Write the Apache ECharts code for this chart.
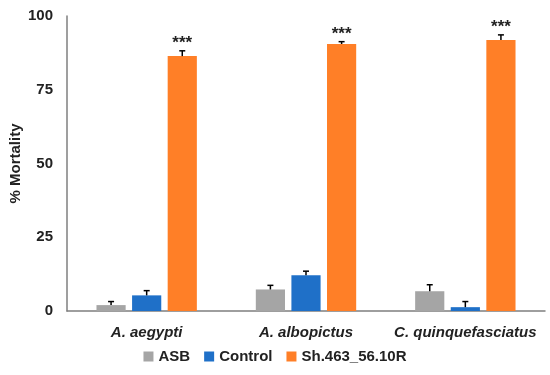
<!DOCTYPE html>
<html><head><meta charset="utf-8">
<script src="https://cdn.jsdelivr.net/npm/echarts@6/dist/echarts.min.js"></script>
<style>html,body{margin:0;padding:0;background:#fff}#c{width:550px;height:375px}</style>
</head><body><div id="c"></div>
<script>
const categories = ['A. aegypti', 'A. albopictus', 'C. quinquefasciatus'];
const seriesNames = ['ASB', 'Control', 'Sh.463_56.10R'];
const asbValues = [2.0, 7.3, 6.7];
const asbErrors = [1.2, 1.4, 2.2];
const controlValues = [5.3, 12.1, 1.3];
const controlErrors = [1.6, 1.4, 1.9];
const shValues = [86.4, 90.5, 91.9];
const shErrors = [1.8, 0.8, 1.7];
const significance = ['', '', '***'];
const yTicks = [0, 25, 50, 75, 100];
const colors = ['#A5A5A5', '#1F70C8', '#FF7F27'];

const allValues = [asbValues, controlValues, shValues];
const allErrors = [asbErrors, controlErrors, shErrors];
const catGapFrac = 0.37, barGapFrac = 0.22, nSeries = 3;

function errSeries(si) {
  const data = categories.map((c, i) => [i, allValues[si][i], allErrors[si][i]]);
  return {
    type: 'custom', name: seriesNames[si] + ' err', z: 10, silent: true,
    data: data,
    renderItem: function (params, api) {
      const ci = api.value(0), v = api.value(1), e = api.value(2);
      const band = api.size([1, 0])[0];
      const usable = band * (1 - catGapFrac);
      const bw = usable / (nSeries + (nSeries - 1) * barGapFrac);
      const off = -usable / 2 + si * bw * (1 + barGapFrac) + bw / 2;
      const base = api.coord([ci, v]);
      const top = api.coord([ci, v + e]);
      const x = base[0] + off;
      const children = [
        {type: 'line', shape: {x1: x, y1: base[1], x2: x, y2: top[1]}, style: {stroke: '#000', lineWidth: 1.5}},
        {type: 'line', shape: {x1: x - 3, y1: top[1], x2: x + 3, y2: top[1]}, style: {stroke: '#000', lineWidth: 1.5}}
      ];
      if (significance[si]) {
        children.push({type: 'text', x: x, y: top[1] + 1, style: {text: significance[si], fill: '#222', font: 'bold 17px "Liberation Sans", Arial, sans-serif', align: 'center', verticalAlign: 'bottom'}});
      }
      return {type: 'group', children: children};
    }
  };
}

const chart = echarts.init(document.getElementById('c'));
const barSeries = seriesNames.map((n, si) => ({
  type: 'bar', name: n, data: allValues[si],
  itemStyle: {color: colors[si]},
  barGap: (barGapFrac * 100) + '%', barCategoryGap: (catGapFrac * 100) + '%'
}));
chart.setOption({
  animation: false,
  textStyle: {fontFamily: '"Liberation Sans", Arial, sans-serif'},
  grid: {left: 67, right: 5, top: 16, bottom: 64, containLabel: false, outerBoundsMode: 'none'},
  legend: {
    data: seriesNames, bottom: 6, left: 'center', itemWidth: 10, itemHeight: 10, itemGap: 14,
    icon: 'rect',
    textStyle: {fontWeight: 'bold', fontSize: 15, color: '#222'}
  },
  xAxis: {
    type: 'category', data: categories,
    axisLine: {lineStyle: {color: '#7f7f7f', width: 1.5}},
    axisTick: {show: false},
    axisLabel: {interval: 0, hideOverlap: false, fontWeight: 'bold', fontStyle: 'italic', fontSize: 15, color: '#222', margin: 14}
  },
  yAxis: {
    type: 'value', min: 0, max: 100, interval: 25,
    name: '% Mortality', nameLocation: 'middle', nameGap: 44, nameMoveOverlap: false,
    nameTextStyle: {fontWeight: 'bold', fontSize: 15, color: '#222'},
    axisLine: {show: true, lineStyle: {color: '#7f7f7f', width: 1.5}},
    axisTick: {show: false},
    splitLine: {show: false},
    axisLabel: {fontWeight: 'bold', fontSize: 15, color: '#222', margin: 14,
      formatter: v => yTicks.includes(v) ? String(v) : ''}
  },
  series: barSeries.concat([errSeries(0), errSeries(1), errSeries(2)])
});
</script></body></html>
